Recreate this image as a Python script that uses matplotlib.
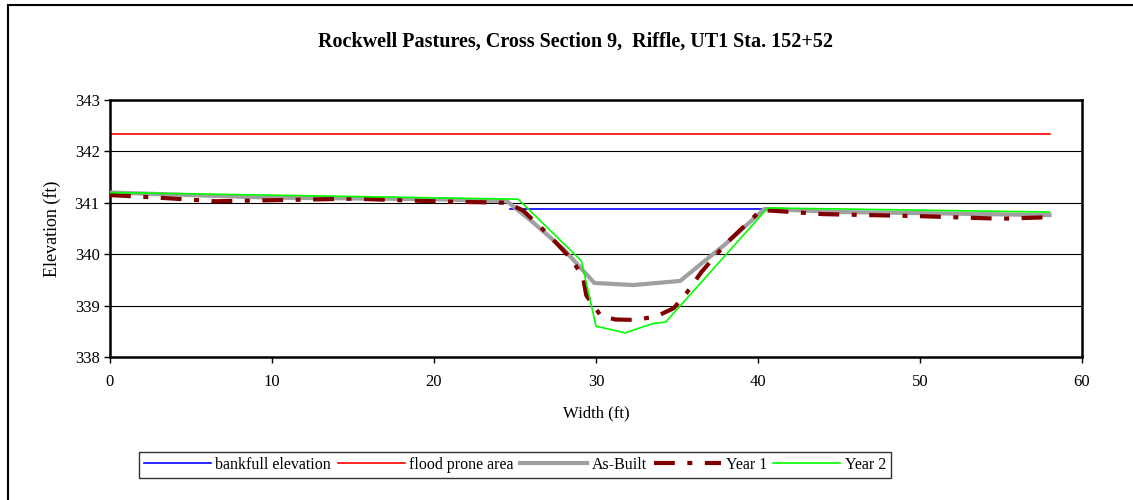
import matplotlib.pyplot as plt
from matplotlib.patches import Rectangle

plt.rcParams['font.family'] = ['Liberation Serif', 'DejaVu Serif']

# data
bankfull_x = [24.7, 40.5]
bankfull_y = [340.87, 340.87]

flood_x = [0, 58]
flood_y = [342.33, 342.33]

asbuilt_x = [0, 10, 20, 24.5, 26, 28, 29.9, 32.3, 35.2, 38, 40.4, 45, 50, 58]
asbuilt_y = [341.2, 341.1, 341.07, 341.03, 340.65, 340.1, 339.44, 339.40, 339.48, 340.2, 340.88, 340.82, 340.8, 340.76]

year1_x = [0, 3, 6.5, 10, 15, 20, 24.5, 25.5, 27, 28.5, 29.2, 29.4, 30.3, 31.2, 32.5, 33.8, 34.8, 35.6, 36.5, 38, 40.2, 44, 50, 55, 58]
year1_y = [341.15, 341.1, 341.03, 341.05, 341.08, 341.03, 341.0, 340.85, 340.4, 339.9, 339.55, 339.2, 338.8, 338.73, 338.72, 338.8, 338.95, 339.25, 339.65, 340.2, 340.86, 340.78, 340.74, 340.69, 340.72]

year2_x = [0, 25.2, 29.1, 30.0, 31.8, 33.5, 34.3, 40.6, 58]
year2_y = [341.2, 341.07, 339.87, 338.6, 338.47, 338.65, 338.68, 340.9, 340.82]

xticks = [0, 10, 20, 30, 40, 50, 60]
yticks = [338, 339, 340, 341, 342, 343]

################################################################################

fig = plt.figure(figsize=(11.33, 5.0), dpi=100)
fig.patches.append(Rectangle((8 / 1133, -0.1), 1.2, 1 - 5 / 500 + 0.1,
                             transform=fig.transFigure, fill=False,
                             edgecolor='black', linewidth=1.5))

ax = fig.add_axes([110 / 1133, 1 - 357 / 500, (1082 - 110) / 1133, 257 / 500])

for y in [339, 340, 341, 342]:
    ax.axhline(y, color='black', linewidth=0.8, zorder=1)

ax.plot(bankfull_x, bankfull_y, color='#0000ff', linewidth=1.2, label='bankfull elevation', zorder=2)
ax.plot(flood_x, flood_y, color='#ff0000', linewidth=1.2, label='flood prone area', zorder=2)
ax.plot(asbuilt_x, asbuilt_y, color='#a0a0a0', linewidth=3, label='As-Built', zorder=3)
ax.plot(year1_x, year1_y, color='#800000', linewidth=3, dashes=(5, 3, 1.2, 3),
        label='Year 1', zorder=4)
ax.plot(year2_x, year2_y, color='#00ff00', linewidth=1.2, label='Year 2', zorder=5)

ax.set_xlim(0, 60)
ax.set_ylim(338, 343)
ax.set_xticks(xticks)
ax.set_yticks(yticks)
ax.tick_params(direction='out', length=4, width=1, labelsize=12)
ax.tick_params(axis='x', pad=8)
for s in ax.spines.values():
    s.set_linewidth(1.8)

ax.set_xlabel('Width (ft)', fontsize=12, labelpad=11)
ax.set_ylabel('Elevation (ft)', fontsize=13, labelpad=10)

fig.text(575 / 1133, 1 - 42 / 500, 'Rockwell Pastures, Cross Section 9,  Riffle, UT1 Sta. 152+52',
         ha='center', va='center', fontsize=14.5, fontweight='bold')

leg = fig.legend(loc='center', bbox_to_anchor=(515 / 1133, 1 - 465 / 500), ncol=5,
                 fontsize=11.5, frameon=True, fancybox=False, handlelength=4.2,
                 handletextpad=0.3, columnspacing=0.4, borderpad=0.3)
leg.get_frame().set_edgecolor('black')
leg.get_frame().set_linewidth(1)

fig.savefig('out.png', dpi=100)
